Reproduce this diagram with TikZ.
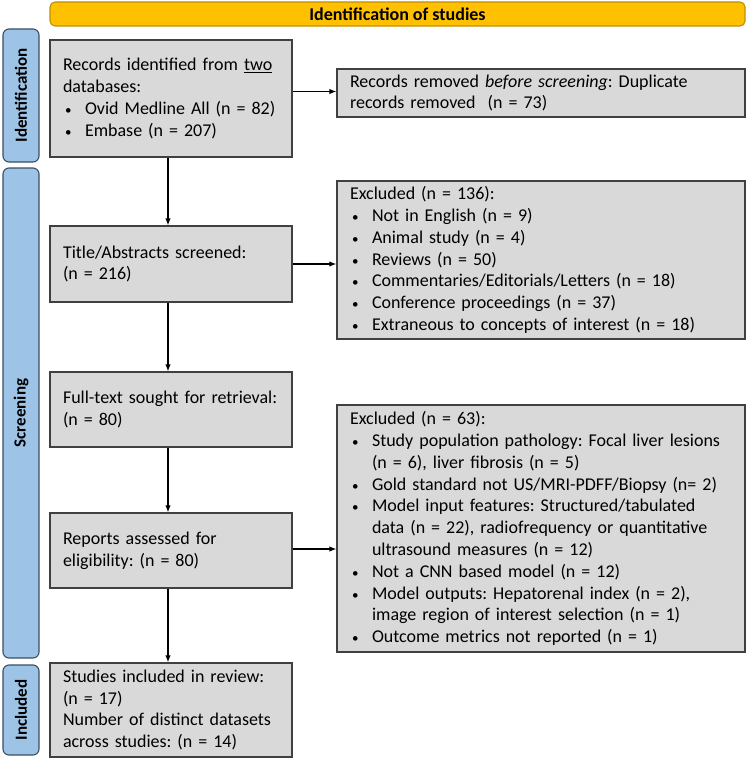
\documentclass[tikz,border=0pt]{standalone}
\usepackage{fontspec}
\setmainfont{Carlito}
\usetikzlibrary{arrows.meta}
\definecolor{boxfill}{HTML}{D9D9D9}
\definecolor{boxline}{HTML}{404040}
\definecolor{sidefill}{HTML}{9DC3E6}
\definecolor{sideline}{HTML}{3B4E63}
\definecolor{barfill}{HTML}{FFC000}
\definecolor{barline}{HTML}{BF9000}
\frenchspacing
\tikzset{
  box/.style={draw=boxline, fill=boxfill, line width=1.2pt, inner xsep=13pt, inner ysep=0pt,
    align=left, font=\fontsize{18}{21.8}\selectfont\frenchspacing},
  side/.style={draw=sideline, fill=sidefill, rounded corners=6pt, line width=1.1pt,
    font=\bfseries\fontsize{17}{20}\selectfont, rotate=90, inner sep=0pt},
  bar/.style={draw=barline, fill=barfill, rounded corners=5pt, line width=1.1pt,
    font=\bfseries\fontsize{18}{20}\selectfont, inner sep=0pt},
  arr/.style={-{Latex[length=7pt,width=5.5pt]}, line width=1.3pt}
}
\newcommand\flowbox[6]{%
  \pgfmathsetmacro\bxw{#4-#2}\pgfmathsetmacro\bxh{#5-#3}\pgfmathsetmacro\bxt{#4-#2-26}%
  \node[box, minimum width=\bxw pt, minimum height=\bxh pt, text width=\bxt pt] (#1)
    at ({(#2+#4)/2},{(#3+#5)/2}) {#6};}
\newcommand\itm{\par\noindent\hangindent=22pt\hangafter=1%
  \makebox[22pt][l]{\hspace{2pt}{\fontsize{13}{13}\selectfont •}}}
\begin{document}
\begin{tikzpicture}[x=1pt,y=-1pt]
\useasboundingbox (0,0) rectangle (747,760);
% top bar
\node[bar, minimum width=695pt, minimum height=24pt] (top) at (397.5,14) {Identification of studies};
% side labels
\node[side, minimum width=133pt, minimum height=36pt] (sid) at (21,95.5) {Identification};
\node[side, minimum width=490pt, minimum height=36pt] (sscr) at (21,413) {Screening};
\node[side, minimum width=90pt, minimum height=36pt] (sinc) at (21,710) {Included};
% boxes
\flowbox{rec}{50}{40}{292}{157}{Records identified from \underline{two}\\databases:%
\itm Ovid Medline All (n = 82)\itm Embase (n = 207)}
\flowbox{dup}{337}{69}{745}{117}{Records removed \emph{before screening}: Duplicate\\records removed~ (n = 73)}
\flowbox{tit}{50}{226}{292}{302}{Title/Abstracts screened:\\(n = 216)}
\flowbox{exa}{337}{181}{745}{339}{Excluded (n = 136):%
\itm Not in English (n = 9)\itm Animal study (n = 4)\itm Reviews (n = 50)%
\itm Commentaries/Editorials/Letters (n = 18)\itm Conference proceedings (n = 37)%
\itm Extraneous to concepts of interest (n = 18)}
\flowbox{full}{50}{372}{292}{447}{Full-text sought for retrieval:\\(n = 80)}
\flowbox{exb}{337}{405}{745}{652}{Excluded (n = 63):%
\itm Study population pathology: Focal liver lesions\newline (n = 6), liver fibrosis (n = 5)%
\itm Gold standard not US/MRI-PDFF/Biopsy (n= 2)%
\itm Model input features: Structured/tabulated\newline data (n = 22), radiofrequency or quantitative\newline ultrasound measures (n = 12)%
\itm Not a CNN based model (n = 12)%
\itm Model outputs: Hepatorenal index (n = 2),\newline image region of interest selection (n = 1)%
\itm Outcome metrics not reported (n = 1)}
\flowbox{rep}{50}{513}{292}{588}{Reports assessed for\\eligibility: (n = 80)}
\flowbox{inc}{50}{663}{292}{757}{Studies included in review:\\(n = 17)\\Number of distinct datasets\\across studies: (n = 14)}
% arrows
\draw[arr] ([xshift=-3pt]rec.south) -- ([xshift=-3pt]tit.north);
\draw[arr] ([xshift=-3pt]tit.south) -- ([xshift=-3pt]full.north);
\draw[arr] ([xshift=-3pt]full.south) -- ([xshift=-3pt]rep.north);
\draw[arr] ([xshift=-3pt]rep.south) -- ([xshift=-3pt]inc.north);
\draw[arr] ([yshift=7pt]rec.east) -- ([yshift=7pt]rec.east -| dup.west);
\draw[arr] (tit.east) -- (tit.east -| exa.west);
\draw[arr] ([yshift=1.5pt]rep.east) -- ([yshift=1.5pt]rep.east -| exb.west);
\end{tikzpicture}
\end{document}
